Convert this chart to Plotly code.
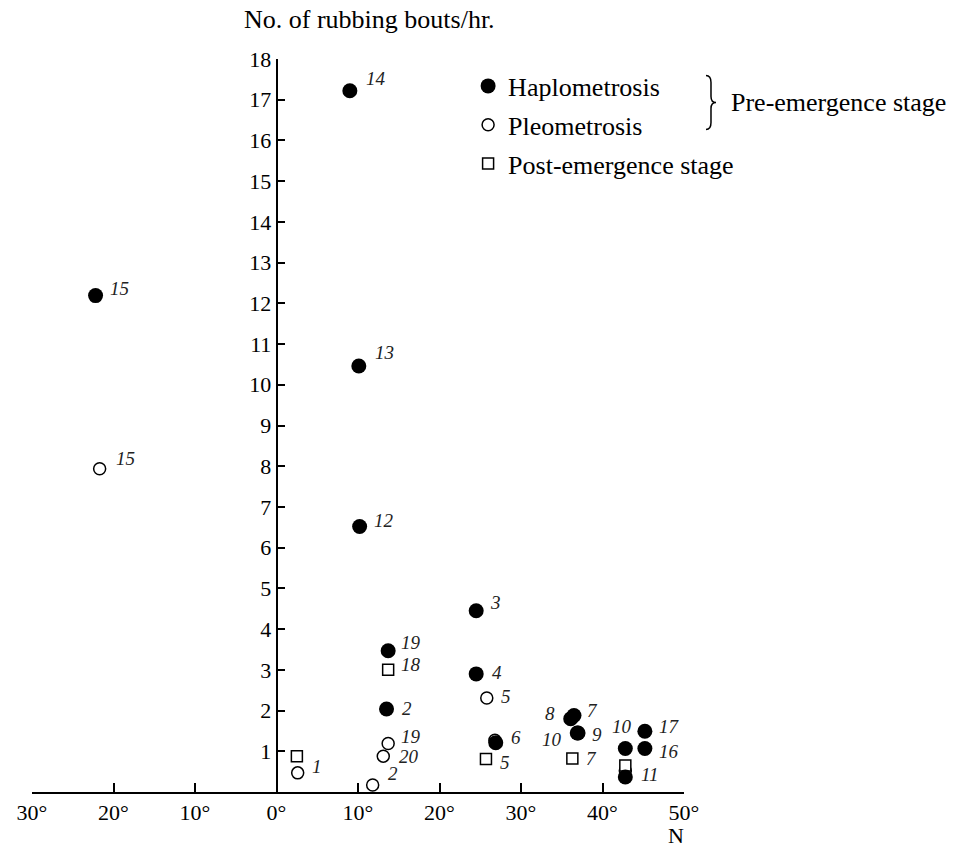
import plotly.graph_objects as go

# ---------------- data ----------------
hap_lat = [-22.2, 9.0, 10.1, 10.2, 13.7, 13.5, 24.5, 24.5, 26.9, 36.1, 36.5, 36.9, 37.0, 42.8, 42.8, 45.2, 45.2]
hap_val = [12.19, 17.22, 10.46, 6.52, 3.47, 2.04, 4.45, 2.90, 1.21, 1.80, 1.88, 1.45, 1.45, 1.07, 0.37, 1.07, 1.49]
hap_site = ["15", "14", "13", "12", "19", "2", "3", "4", "6", "8", "7", "10", "9", "10", "11", "16", "17"]

ple_lat = [-21.7, 2.6, 11.8, 13.7, 13.1, 25.8, 26.8, 42.8]
ple_val = [7.94, 0.47, 0.17, 1.19, 0.88, 2.31, 1.27, 0.52]
ple_site = ["15", "", "2", "19", "20", "5", "", ""]

post_lat = [2.5, 13.7, 25.7, 36.3, 42.8]
post_val = [0.88, 3.00, 0.81, 0.82, 0.65]
post_site = ["1", "18", "5", "7", ""]

x_tickvals = [-30, -20, -10, 0, 10, 20, 30, 40, 50]
x_ticktext = ["30°", "20°", "10°", "0°", "10°", "20°", "30°", "40°", "50°"]
y_tickvals = list(range(1, 19))

# ---------------- label placement (pixel offsets: dx, dy-down, anchor) ----------------
hap_off = [(12.7, -7.4, "left"), (14.3, -12.4, "left"), (14.3, -13.3, "left"), (12.4, -5.7, "left"),
           (11, -8.3, "left"), (13.3, 0, "left"), (12, -8, "left"), (14, -1, "left"),
           (13, -5, "left"), (-14, -5, "right"), (10.7, -5, "left"), (-13, 7, "right"),
           (11.7, 1.7, "left"), (-3, -22, "center"), (14, -2, "left"), (11.7, 2.7, "left"),
           (11.7, -4.7, "left")]
ple_off = [(14.3, -10, "left"), (0, 0, "left"), (13.3, -11.7, "left"), (11, -6.7, "left"),
           (13.4, 0, "left"), (12.6, -1, "left"), (0, 0, "left"), (0, 0, "left")]
post_off = [(13.3, 10, "left"), (11, -5.7, "left"), (12.3, 3.4, "left"), (11.7, 0, "left"), (0, 0, "left")]

SERIF = "Liberation Serif, Times New Roman, serif"

# plot-area geometry helpers (reference pixels -> paper fractions)
PL, PR, PT, PB = 31.7, 684.0, 58.5, 792.5


def px(xp):
    return (xp - PL) / (PR - PL)


def py(yp):
    return (PB - yp) / (PB - PT)


fig = go.Figure()

fig.add_trace(go.Scatter(
    x=ple_lat, y=ple_val, mode="markers", name="Pleometrosis", legendrank=2,
    legendgroup="b",
    marker=dict(symbol="circle", size=12, color="white", line=dict(color="black", width=1.5)),
    cliponaxis=False))
fig.add_trace(go.Scatter(
    x=post_lat, y=post_val, mode="markers", name="Post-emergence stage", legendrank=3,
    legendgroup="c",
    marker=dict(symbol="square", size=11, color="white", line=dict(color="black", width=1.5)),
    cliponaxis=False))
fig.add_trace(go.Scatter(
    x=hap_lat, y=hap_val, mode="markers", name="Haplometrosis", legendrank=1,
    legendgroup="a",
    marker=dict(symbol="circle", size=15, color="black", line=dict(width=0)),
    cliponaxis=False))

annotations = []
for xs, ys, labs, offs in [(hap_lat, hap_val, hap_site, hap_off),
                           (ple_lat, ple_val, ple_site, ple_off),
                           (post_lat, post_val, post_site, post_off)]:
    for x, y, t, (dx, dy, anc) in zip(xs, ys, labs, offs):
        if not t:
            continue
        annotations.append(dict(
            x=x, y=y, xref="x", yref="y", text="<i>%s</i>" % t, showarrow=False,
            xanchor=anc, yanchor="middle", xshift=dx, yshift=-dy,
            font=dict(family=SERIF, size=19, color="#222")))

annotations.append(dict(x=px(242), y=py(19), xref="paper", yref="paper", xanchor="left", yanchor="middle",
                        text="No. of rubbing bouts/hr.", showarrow=False,
                        font=dict(family=SERIF, size=26, color="black")))
annotations.append(dict(x=px(676), y=py(836), xref="paper", yref="paper", xanchor="center", yanchor="middle",
                        text="N", showarrow=False, borderpad=0,
                        font=dict(family=SERIF, size=22, color="black")))
annotations.append(dict(x=px(729), y=py(102), xref="paper", yref="paper",
                        xanchor="left", yanchor="middle",
                        text="Pre-emergence stage", showarrow=False,
                        font=dict(family=SERIF, size=26, color="black")))

shapes = [dict(type="path", xref="paper", yref="paper", xsizemode="pixel", ysizemode="pixel",
               xanchor=px(706), yanchor=py(102),
               path="M 0,27 Q 5,27 5,20 L 5,6 Q 5,0 10,0 Q 5,0 5,-6 L 5,-20 Q 5,-27 0,-27",
               line=dict(color="black", width=1.5))]

fig.update_layout(
    width=955, height=848,
    margin=dict(l=PL, r=955 - PR, t=PT, b=848 - PB),
    paper_bgcolor="white", plot_bgcolor="white",
    showlegend=True,
    legend=dict(x=px(468), y=py(62), xanchor="left", yanchor="top",
                font=dict(family=SERIF, size=26, color="black"),
                traceorder="grouped", tracegroupgap=2, bgcolor="rgba(0,0,0,0)"),
    annotations=annotations,
    shapes=shapes,
    xaxis=dict(range=[-30, 50], tickvals=x_tickvals, ticktext=x_ticktext,
               showline=True, linecolor="black", linewidth=1.5, ticks="inside", ticklen=9,
               tickwidth=1.5, tickcolor="black", showgrid=False, zeroline=False,
               tickfont=dict(family=SERIF, size=22, color="black")),
    yaxis=dict(range=[0, 18], tickvals=y_tickvals, anchor="free", position=30 / 80,
               showline=True, linecolor="black", linewidth=1.5, ticks="inside", ticklen=8,
               tickwidth=1.5, tickcolor="black", showgrid=False, zeroline=False,
               tickfont=dict(family=SERIF, size=22, color="black")),
)

# remove the default 8px page margin so the 955x848 figure fills the window exactly
fig.write_html("out.html", config={"displayModeBar": False},
               post_script="document.body.style.margin='0';document.body.style.overflow='hidden';")
